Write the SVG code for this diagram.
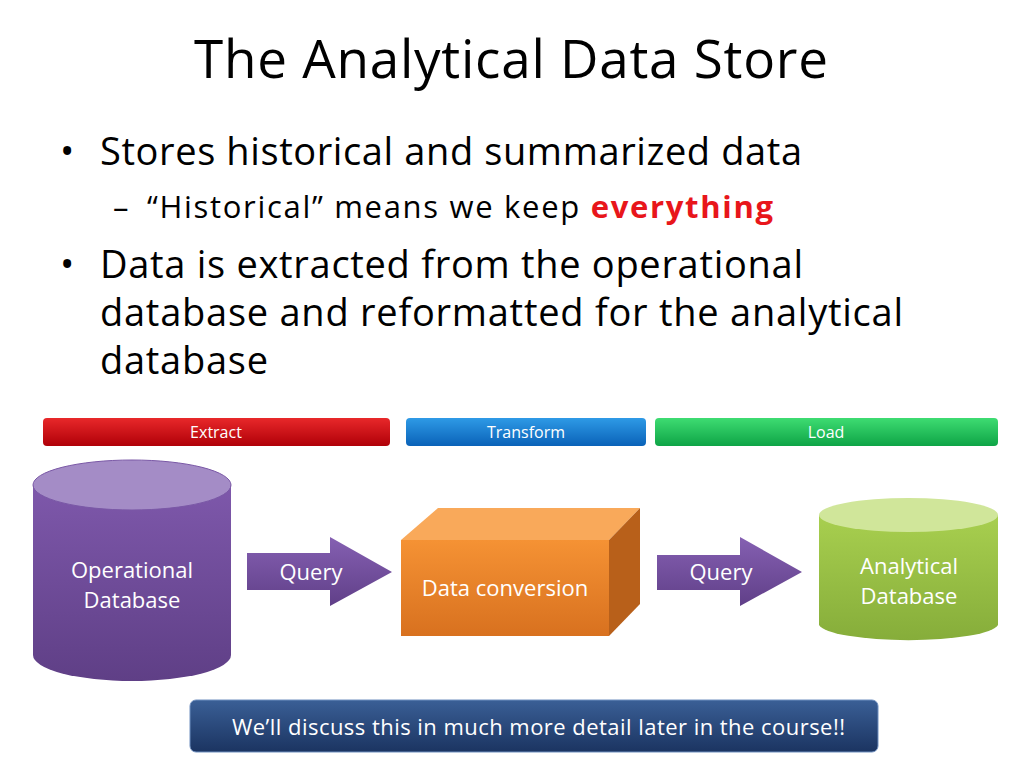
<svg xmlns="http://www.w3.org/2000/svg" width="1024" height="768" viewBox="0 0 1024 768">
<defs>
<style>
text{font-family:"Open Sans","Liberation Sans",sans-serif;}
.w{fill:#fff}
</style>
<linearGradient id="gr" x1="0" y1="0" x2="0" y2="1"><stop offset="0" stop-color="#e8282a"/><stop offset="1" stop-color="#b00008"/></linearGradient>
<linearGradient id="gb" x1="0" y1="0" x2="0" y2="1"><stop offset="0" stop-color="#2e9ae6"/><stop offset="1" stop-color="#0a62b8"/></linearGradient>
<linearGradient id="gg" x1="0" y1="0" x2="0" y2="1"><stop offset="0" stop-color="#3edc72"/><stop offset="1" stop-color="#0ea446"/></linearGradient>
<linearGradient id="gp" x1="0" y1="0" x2="0" y2="1"><stop offset="0" stop-color="#7e58ab"/><stop offset="1" stop-color="#5f3f86"/></linearGradient>
<linearGradient id="gl" x1="0" y1="0" x2="0" y2="1"><stop offset="0" stop-color="#a8cf4f"/><stop offset="1" stop-color="#86ad3a"/></linearGradient>
<linearGradient id="go" x1="0" y1="0" x2="0" y2="1"><stop offset="0" stop-color="#f59234"/><stop offset="1" stop-color="#d8711f"/></linearGradient>
<linearGradient id="gn" x1="0" y1="0" x2="0" y2="1"><stop offset="0" stop-color="#3a5f96"/><stop offset="1" stop-color="#1b3461"/></linearGradient>
<linearGradient id="ga" x1="0" y1="0" x2="0" y2="1"><stop offset="0" stop-color="#8560b2"/><stop offset="1" stop-color="#603f88"/></linearGradient>
</defs>
<rect width="1024" height="768" fill="#fff"/>
<text x="194" y="78" font-size="53" textLength="634" fill="#000">The Analytical Data Store</text>
<g font-size="38" fill="#000">
<text x="60" y="165">•</text><text x="100" y="165" textLength="702">Stores historical and summarized data</text>
<text x="60" y="278">•</text><text x="100" y="278" textLength="703">Data is extracted from the operational</text>
<text x="100" y="326" textLength="803">database and reformatted for the analytical</text>
<text x="100" y="374" textLength="168">database</text>
</g>
<g font-size="31" fill="#000"><text x="113" y="218">–</text><text x="147" y="218" textLength="626">“Historical” means we keep <tspan fill="#e8161b" font-weight="bold">everything</tspan></text></g>

<g id="extract"><rect x="43" y="418" width="347" height="28" rx="4" fill="url(#gr)"/><text x="216" y="438" font-size="16" class="w" text-anchor="middle">Extract</text></g>
<g id="transform"><rect x="406" y="418" width="240" height="28" rx="4" fill="url(#gb)"/><text x="526" y="438" font-size="16" class="w" text-anchor="middle">Transform</text></g>
<g id="load"><rect x="655" y="418" width="343" height="28" rx="4" fill="url(#gg)"/><text x="826" y="438" font-size="16" class="w" text-anchor="middle">Load</text></g>

<g id="operational">
<path d="M33 485 V655 A99 26 0 0 0 231 655 V485 Z" fill="url(#gp)"/>
<ellipse cx="132" cy="485" rx="99" ry="25" fill="#a48cc6" stroke="#7a58a6"/>
<text x="132" y="578" font-size="22" class="w" text-anchor="middle">Operational</text>
<text x="132" y="608" font-size="22" class="w" text-anchor="middle">Database</text>
</g>
<g id="conversion">
<polygon points="401,540 438,508 640,508 609,540" fill="#f9a95a"/>
<polygon points="609,540 640,508 640,604 609,636" fill="#b8601a"/>
<rect x="401" y="540" width="208" height="96" fill="url(#go)"/>
<text x="505" y="596" font-size="22" class="w" text-anchor="middle">Data conversion</text>
</g>
<g id="analytical">
<path d="M819 515 V625 A90 17 0 0 0 998 625 V515 Z" fill="url(#gl)"/>
<ellipse cx="908.500" cy="515" rx="89.500" ry="17" fill="#d0e69a"/>
<text x="909" y="574" font-size="22" class="w" text-anchor="middle">Analytical</text>
<text x="909" y="604" font-size="22" class="w" text-anchor="middle">Database</text>
</g>
<g id="connectors">
<polygon points="247,553 330,553 330,537 392,572 330,606 330,590 247,590" fill="url(#ga)"/>
<text x="311" y="580" font-size="22" class="w" text-anchor="middle">Query</text>
<polygon points="657,555 740,555 740,537 802,572 740,606 740,590 657,590" fill="url(#ga)"/>
<text x="721" y="580" font-size="22" class="w" text-anchor="middle">Query</text>
</g>
<g id="note">
<rect x="190" y="700" width="688" height="52" rx="6" fill="url(#gn)" stroke="#6f8fbf" stroke-width="1"/>
<text x="232" y="735" font-size="22" textLength="613" class="w">We’ll discuss this in much more detail later in the course!!</text>
</g>
</svg>
